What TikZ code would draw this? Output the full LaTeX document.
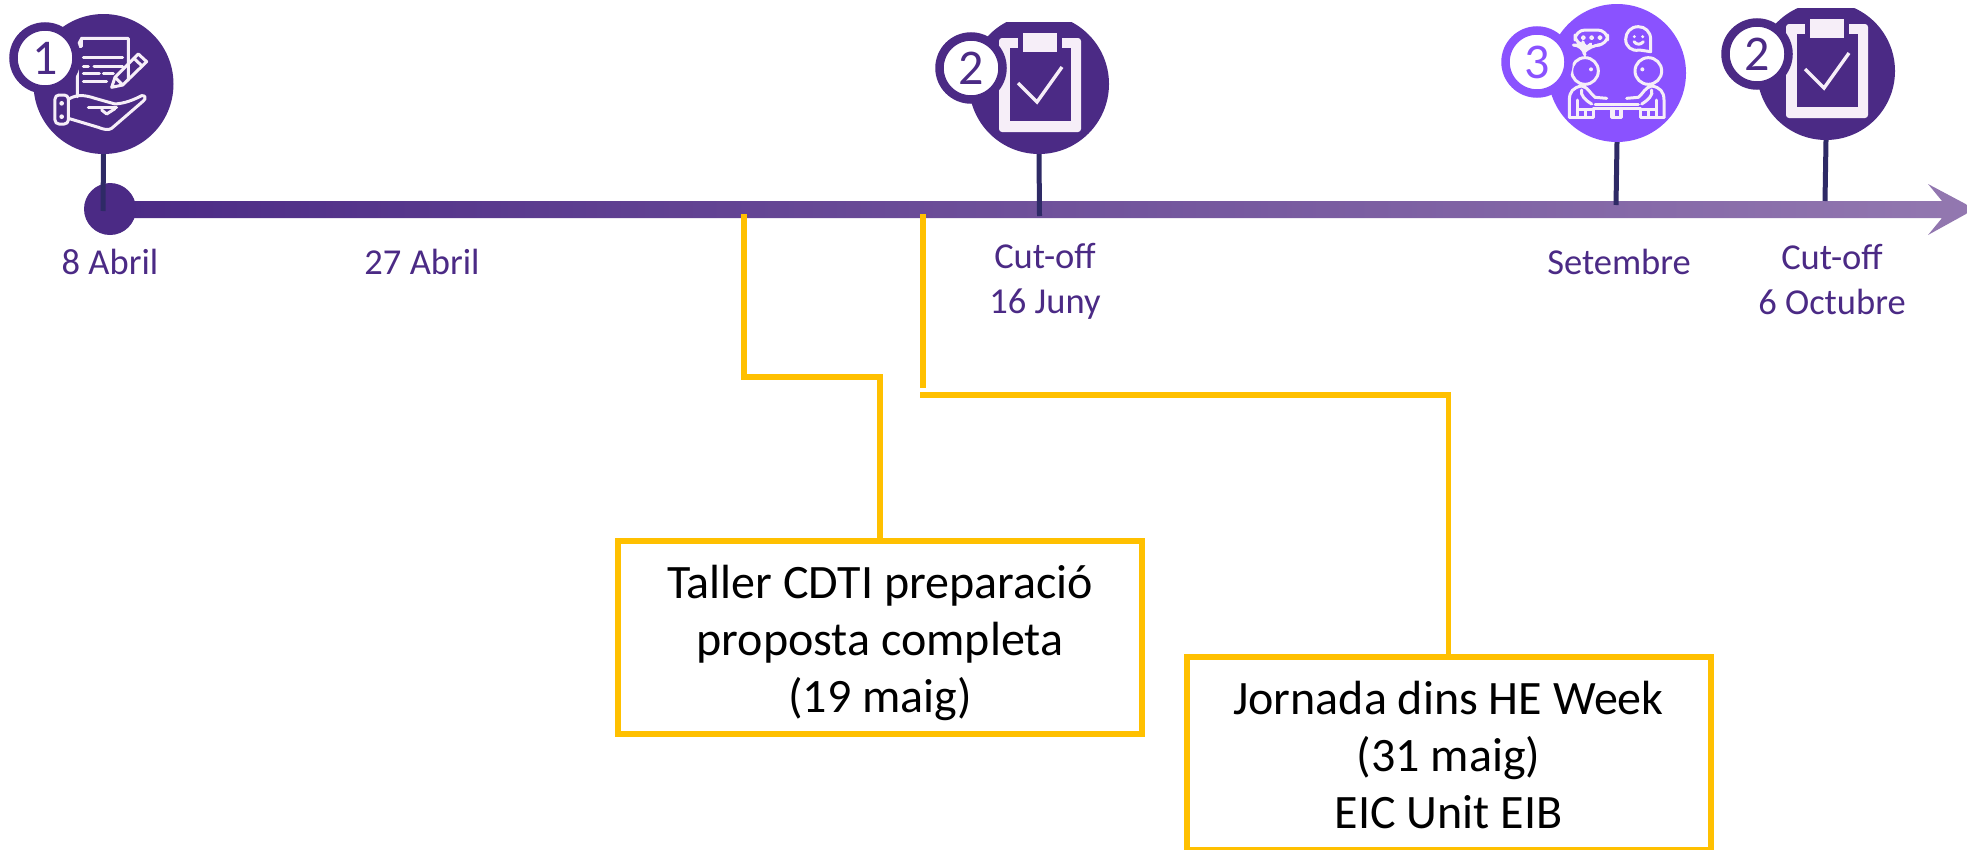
\documentclass[tikz,border=0pt]{standalone}
\usepackage{fontspec}
\setmainfont{Carlito}
\definecolor{tlpurple}{HTML}{4B2A85}
\definecolor{tlend}{HTML}{9378B0}
\definecolor{tlviolet}{HTML}{8A52FF}
\definecolor{tlstem}{HTML}{2E2A66}
\definecolor{tlorange}{HTML}{FFC000}
\definecolor{tlicon}{HTML}{F6EEF8}
\tikzset{
  disc/.style={circle,fill=#1,draw=none,inner sep=0pt,minimum size=140pt},
  badge/.style={circle,draw=#1,fill=white,line width=8.5pt,inner sep=0pt,minimum size=63pt,text=#1,font=\fontsize{50}{50}\selectfont},
  stem/.style={draw=tlstem,line width=5pt},
  datelabel/.style={text=tlpurple,align=center,inner sep=0pt,font=\fontsize{36.5}{45}\selectfont},
  eventbox/.style={draw=tlorange,fill=white,line width=6pt,minimum width=524pt,minimum height=193pt,inner sep=0pt,align=center,text=black,font=\fontsize{48}{57}\selectfont},
  link/.style={draw=tlorange,line width=6pt},
  iconline/.style={draw=tlicon,line width=3pt,line cap=round,line join=round},
}
\newcommand{\tlfirst}{\rule{0pt}{51pt}}
\newcommand{\tllast}{\rule[-14pt]{0pt}{14pt}}
\newcommand{\clipboardicon}{%
  \fill[tlicon,rounded corners=3pt] (-40,-47) rectangle (42,47);
  \fill[tlpurple] (-29,-37) rectangle (32,36);
  \fill[tlpurple] (-21,-48) rectangle (23,-36);
  \fill[tlicon] (-16,-52) rectangle (18,-33);
  \draw[tlicon,line width=3.4pt,line join=miter] (-21,-2) -- (-2,17) -- (23,-18);
}
\newcommand{\meetinghalf}{%
  \draw[iconline] (315,213) circle (40);
  \fill[tlicon] (333,208) circle (6);
  \draw[iconline] (268,352) -- (268,300) .. controls (268,275) and (280,262) .. (305,258)
     .. controls (325,262) and (330,280) .. (345,292) -- (380,295);
  \draw[iconline] (305,270) .. controls (300,285) and (315,300) .. (335,312);
  \draw[iconline] (268,352) -- (340,352) -- (340,325);
  \draw[iconline] (292,300) -- (292,352);
  \draw[iconline] (315,330) -- (315,352);
  \draw[iconline] (292,328) -- (335,328);
  \draw[iconline] (395,325) -- (395,352) -- (420,352) -- (420,325);
}
\begin{document}
\begin{tikzpicture}[x=1pt,y=-1pt]
\useasboundingbox (0,0) rectangle (1967,849);
\clip (0,0) rectangle (1967,849);
% timeline
\shade[left color=tlpurple,right color=tlend]
  (105,201) -- (1942,201) -- (1928,184) -- (1975,209) -- (1928,235) -- (1942,218) -- (105,218) -- cycle;
\node[circle,fill=tlpurple,inner sep=0pt,minimum size=52pt] (dot) at (110,209) {};
% discs
\node[disc=tlpurple] (c1) at (103.5,84) {};
\begin{scope}
  \clip (900,22) rectangle (1200,170);
  \node[disc=tlpurple] (c2) at (1039,84) {};
\end{scope}
\node[disc=tlviolet,minimum size=138pt] (c3) at (1617,73) {};
\begin{scope}
  \clip (1740,8) rectangle (1920,170);
  \node[disc=tlpurple,minimum size=138pt] (c4) at (1826,71) {};
\end{scope}
% stems
\coordinate (t1) at (103,211);
\coordinate (t2) at (1039.5,216);
\coordinate (t3) at (1616,205);
\coordinate (t4) at (1825,201);
\draw[stem] (c1.south) -- (t1);
\draw[stem] (c2.south) -- (t2);
\draw[stem] (c3.south) -- (t3);
\draw[stem] (c4.south) -- (t4);
% document and hand icon
\begin{scope}[scale=1/3]
  \draw[iconline] (232,290) -- (232,140) -- (245,115) -- (385,115) -- (385,240);
  \draw[iconline] (245,115) -- (245,140) -- (232,140);
  \draw[iconline] (250,172) -- (368,172);
  \draw[iconline] (250,198) -- (265,198);
  \draw[iconline] (282,198) -- (368,198);
  \draw[iconline] (250,220) -- (298,220);
  \draw[iconline] (310,220) -- (340,220);
  \draw[iconline] (250,243) -- (320,243);
  \draw[iconline] (335,262) -- (345,232) -- (415,162) -- (440,185) -- (368,255) -- cycle;
  \draw[iconline] (345,232) -- (368,255);
  \draw[iconline] (402,175) -- (426,198);
  \draw[iconline,rounded corners=4pt] (165,285) rectangle (205,372);
  \fill[tlicon] (185,310) circle (7);
  \fill[tlicon] (185,350) circle (7);
  \draw[iconline] (205,298) .. controls (230,282) and (255,285) .. (285,295)
     -- (345,312) .. controls (375,310) and (400,300) .. (425,287)
     .. controls (435,285) and (440,295) .. (430,303) -- (335,385)
     .. controls (325,392) and (310,388) .. (295,382) -- (205,355);
  \draw[iconline] (265,322) -- (350,322);
  \draw[iconline] (305,330) -- (320,342) -- (345,326);
\end{scope}
% clipboards
\begin{scope}[shift={(1039,85)}] \clipboardicon \end{scope}
\begin{scope}[shift={(1826,71)}] \clipboardicon \end{scope}
% meeting icon
\begin{scope}[shift={(1480,0)},scale=1/3]
  \draw[iconline,rounded corners=10pt] (285,90) -- (383,90) -- (383,135) -- (330,135) -- (313,155) -- (310,135) -- (285,135) -- cycle;
  \foreach \dx in {310,335,360} \draw[iconline,line width=1.8pt] (\dx,113) circle (5);
  \draw[iconline] (512,155) -- (512,118) .. controls (512,95) and (495,80) .. (475,80)
    .. controls (452,80) and (437,97) .. (437,118) .. controls (437,140) and (455,155) .. (478,150) -- cycle;
  \fill[tlicon] (463,110) circle (5);
  \fill[tlicon] (488,110) circle (5);
  \draw[iconline] (462,125) .. controls (470,135) and (482,135) .. (490,125);
  \meetinghalf
  \begin{scope}[shift={(820,0)},xscale=-1] \meetinghalf \end{scope}
  \draw[iconline] (345,312) -- (475,312);
  \draw[iconline] (340,325) -- (480,325);
\end{scope}
% badges
\node[badge=tlpurple] (b1) at (45,58) {1};
\node[badge=tlpurple] (b2) at (971,68) {2};
\node[badge=tlviolet] (b3) at (1537,62) {3};
\node[badge=tlpurple] (b4) at (1757,54) {2};
% date labels
\node[datelabel] (l1) at (110,262) {8 Abril};
\node[datelabel] (l2) at (422,262) {27 Abril};
\node[datelabel] (l3) at (1045,281) {Cut-off\\16 Juny};
\node[datelabel] (l4) at (1619,262) {Setembre};
\node[datelabel] (l5) at (1832,280) {Cut-off\\6 Octubre};
% boxes and connectors
\node[eventbox] (box1) at (880,637) {\tlfirst Taller CDTI preparació\\proposta completa\\(19 maig)\tllast};
\node[eventbox] (box2) at (1448.5,753) {\tlfirst Jornada dins HE Week\\(31 maig)\\EIC Unit EIB\tllast};
\coordinate (a1) at (744,214);
\coordinate (k1) at (744,377);
\coordinate (a2) at (923,214);
\coordinate (a2e) at (923,388);
\coordinate (k2) at (920,395);
\draw[link,line join=miter] (a1) -- (k1) -| (box1.north);
\draw[link] (a2) -- (a2e);
\draw[link,line width=5.5pt,line join=miter] (k2) -| (box2.north);
\end{tikzpicture}
\end{document}
